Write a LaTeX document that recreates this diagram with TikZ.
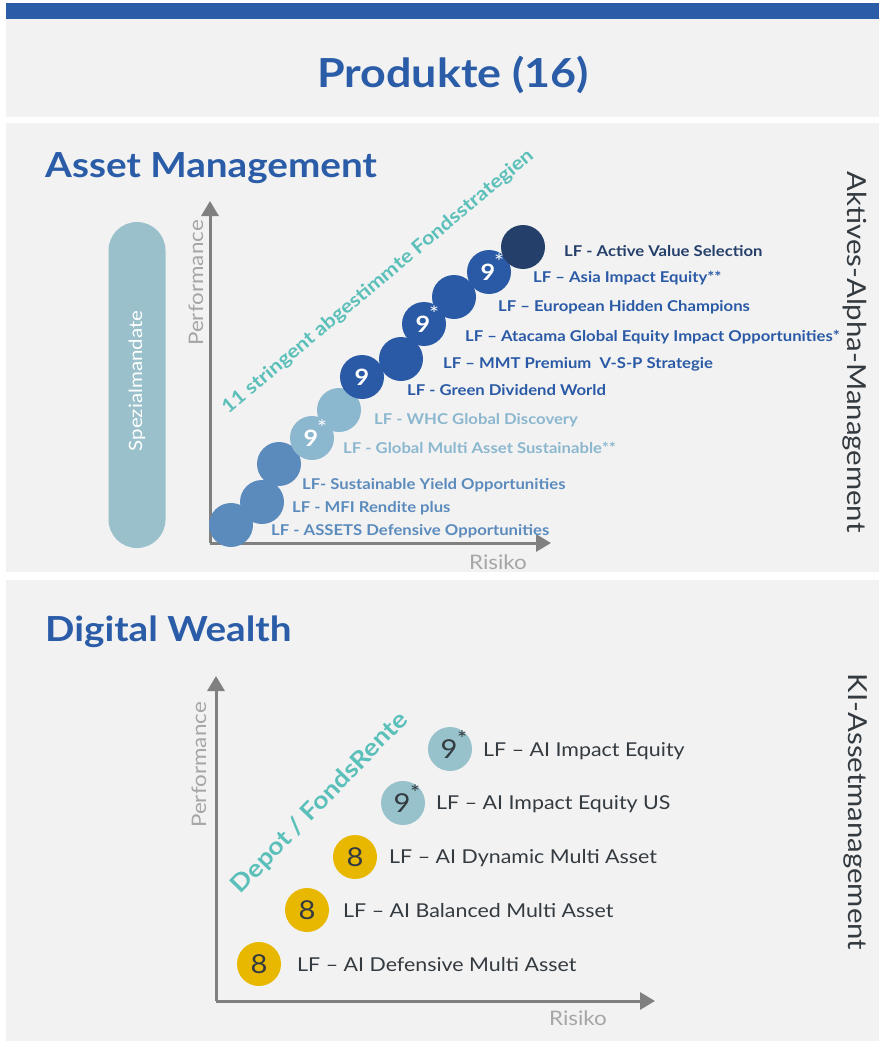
\documentclass[tikz,border=0pt]{standalone}
\usepackage{fontspec}
\setmainfont{Lato}[FakeStretch=1.12]
\usetikzlibrary{arrows.meta}
\definecolor{barblue}{HTML}{2A5CA8}
\definecolor{panelgray}{HTML}{F2F2F2}
\definecolor{navy}{HTML}{243F6A}
\definecolor{dblue}{HTML}{2A5AA6}
\definecolor{mblue}{HTML}{5B8BBD}
\definecolor{lblue}{HTML}{8BB7CF}
\definecolor{teal}{HTML}{5BBFBA}
\definecolor{pill}{HTML}{9AC1CB}
\definecolor{aicirc}{HTML}{97C1CB}
\definecolor{gold}{HTML}{E8B800}
\definecolor{axisgray}{HTML}{808080}
\definecolor{lightgraytext}{HTML}{A6A6A6}
\definecolor{darktext}{HTML}{333A40}
\newcommand{\fs}[1]{\fontsize{#1}{#1}\selectfont}
\begin{document}
\begin{tikzpicture}[x=1pt,y=-1pt,
  panel/.style={fill=panelgray,draw=none},
  dot/.style={circle,minimum size=44pt,inner sep=0pt,draw=none},
  lab/.style={anchor=base west,inner sep=0pt,font=\bfseries\fs{14.9}},
  ailab/.style={anchor=base west,inner sep=0pt,font=\fs{19.1},text=darktext},
  digit/.style={inner sep=0pt,font=\bfseries\fs{22.5},text=white},
  star/.style={inner sep=0pt,font=\fs{21},text=white},
  aidigit/.style={inner sep=0pt,font=\fs{26},text=darktext},
  aistar/.style={inner sep=0pt,font=\fs{21},text=darktext},
  axis/.style={draw=axisgray,line width=3pt,-{Triangle[length=15pt,width=17pt]}},
  axlab/.style={inner sep=0pt,font=\fs{20},text=lightgraytext},
  heading/.style={anchor=base west,inner sep=0pt,font=\bfseries\fs{34.5},text=barblue},
  sidelab/.style={inner sep=0pt,font=\fs{26.2},text=darktext,rotate=-90}
]
\useasboundingbox[fill=white] (0,0) rectangle (879,1043);
% panels
\fill[barblue] (6,3) rectangle (879,19);
\path[panel] (6,19) rectangle (879,117);
\path[panel] (6,123) rectangle (879,572);
\path[panel] (6,580) rectangle (879,1041);
\node[inner sep=0pt,anchor=base,font=\bfseries\fs{40},text=barblue] (title) at (453,88) {Produkte (16)};

% ---------- Asset Management ----------
\node[heading] (h1) at (45,178) {Asset Management};
\node[sidelab] (side1) at (855,352) {Aktives-Alpha-Management};
\node[fill=pill,rounded corners=28.5pt,minimum width=57pt,minimum height=326pt,inner sep=0pt] (pill) at (137,385) {};
\node[inner sep=0pt,font=\fs{18.3},text=white,rotate=90] (pilltext) at (137,381) {Spezialmandate};

\coordinate (o1) at (210,543);
\coordinate (y1) at (210,201);
\coordinate (x1) at (551,543);
\draw[axis] (o1) -- (y1);
\draw[axis] (o1) -- (x1);
\node[axlab,rotate=90] (perf1) at (196,283) {Performance};
\node[axlab] (risk1) at (498,562) {Risiko};

\node[inner sep=0pt,font=\bfseries\fs{19},text=teal,rotate=40] (diag1) at (378,282) {11 stringent abgestimmte Fondsstrategien};

\node[dot,fill=mblue] (c1) at (231,525) {};
\node[dot,fill=mblue] (c2) at (262,502) {};
\node[dot,fill=mblue] (c3) at (279,464) {};
\node[dot,fill=lblue] (c4) at (312,438) {};
\node[dot,fill=lblue] (c5) at (339,410) {};
\node[dot,fill=dblue] (c6) at (362,377) {};
\node[dot,fill=dblue] (c7) at (401,359) {};
\node[dot,fill=dblue] (c8) at (424,324) {};
\node[dot,fill=dblue] (c9) at (454,297) {};
\node[dot,fill=dblue] (c10) at (489,272) {};
\node[dot,fill=navy] (c11) at (523,247) {};

\node[digit] (d4) at ([xshift=-1pt]c4.center) {9};
\node[star] (s4) at ([shift={(10pt,10pt)}]c4.center) {*};
\node[digit] (d6) at (c6) {9};
\node[digit] (d8) at ([xshift=-1pt]c8.center) {9};
\node[star] (s8) at ([shift={(10pt,10pt)}]c8.center) {*};
\node[digit] (d10) at ([xshift=-1pt]c10.center) {9};
\node[star] (s10) at ([shift={(10pt,10pt)}]c10.center) {*};

\node[lab,text=navy] (l11) at (564,256) {LF - Active Value Selection};
\node[lab,text=dblue] (l10) at (533,282) {LF – Asia Impact Equity**};
\node[lab,text=dblue] (l9) at (498,311) {LF – European Hidden Champions};
\node[lab,text=dblue] (l8) at (465,341) {LF – Atacama Global Equity Impact Opportunities*};
\node[lab,text=dblue] (l7) at (443,368) {LF – MMT Premium\ \ V-S-P Strategie};
\node[lab,text=dblue] (l6) at (407,395) {LF - Green Dividend World};
\node[lab,text=lblue] (l5) at (374,424) {LF - WHC Global Discovery};
\node[lab,text=lblue] (l4) at (343,453) {LF - Global Multi Asset Sustainable**};
\node[lab,text=mblue] (l3) at (302,489) {LF- Sustainable Yield Opportunities};
\node[lab,text=mblue] (l2) at (292,512) {LF - MFI Rendite plus};
\node[lab,text=mblue] (l1) at (271,535) {LF - ASSETS Defensive Opportunities};

% ---------- Digital Wealth ----------
\node[heading] (h2) at (45,641) {Digital Wealth};
\node[sidelab] (side2) at (855,812) {KI-Assetmanagement};

\coordinate (o2) at (216,1001);
\coordinate (y2) at (216,676);
\coordinate (x2) at (655,1001);
\draw[axis] (o2) -- (y2);
\draw[axis] (o2) -- (x2);
\node[axlab,rotate=90] (perf2) at (199,765) {Performance};
\node[axlab] (risk2) at (578,1018) {Risiko};

\node[inner sep=0pt,font=\bfseries\fs{24},text=teal,rotate=46] (diag2) at (320,803) {Depot / FondsRente};

\node[dot,fill=aicirc] (a5) at (450,749) {};
\node[dot,fill=aicirc] (a4) at (403,803) {};
\node[dot,fill=gold] (a3) at (355,857) {};
\node[dot,fill=gold] (a2) at (307,910) {};
\node[dot,fill=gold] (a1) at (259,964) {};

\node[aidigit] (e5) at ([xshift=-1pt]a5.center) {9};
\node[aistar] (t5) at ([shift={(12pt,10pt)}]a5.center) {*};
\node[aidigit] (e4) at ([xshift=-1pt]a4.center) {9};
\node[aistar] (t4) at ([shift={(12pt,10pt)}]a4.center) {*};
\node[aidigit] (e3) at (a3) {8};
\node[aidigit] (e2) at (a2) {8};
\node[aidigit] (e1) at (a1) {8};

\node[ailab] (m5) at (483,756) {LF – AI Impact Equity};
\node[ailab] (m4) at (436,809) {LF – AI Impact Equity US};
\node[ailab] (m3) at (389,863) {LF – AI Dynamic Multi Asset};
\node[ailab] (m2) at (343,917) {LF – AI Balanced Multi Asset};
\node[ailab] (m1) at (297,971) {LF – AI Defensive Multi Asset};
\end{tikzpicture}
\end{document}
